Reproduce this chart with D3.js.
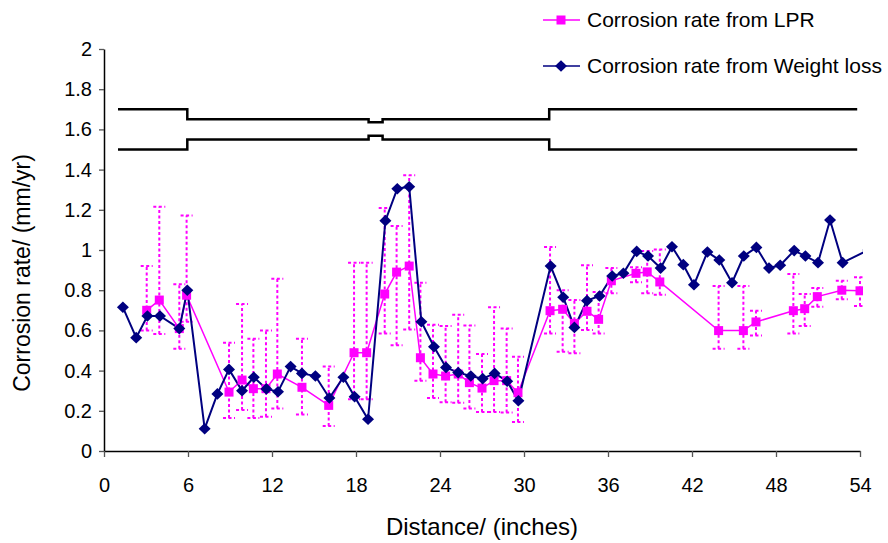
<!DOCTYPE html>
<html>
<head>
<meta charset="utf-8">
<script src="https://cdn.jsdelivr.net/npm/d3@7/dist/d3.min.js"></script>
<style>
  html, body { margin: 0; padding: 0; background: #fff; }
  svg { display: block; font-family: "Liberation Sans", Arial, sans-serif; }
</style>
</head>
<body>
<svg id="chart" width="888" height="543"></svg>
<script>
// Corrosion rate measured by linear polarisation resistance (LPR), with min/max range
const lprDist = [3.05, 3.95, 5.38, 5.9, 8.93, 9.86, 10.67, 11.57, 12.38, 14.14, 16.05, 17.86, 18.76,
  20.05, 20.9, 21.8, 22.6, 23.5, 24.4, 25.3, 26.1, 27.0, 27.86, 28.76, 29.57, 31.86, 32.76, 33.6,
  34.5, 35.33, 36.24, 38.0, 38.8, 39.7, 43.9, 45.67, 46.57, 49.24, 50.05, 50.95, 52.7, 54.0];
const lprRate = [0.70, 0.751, 0.609, 0.775, 0.293, 0.353, 0.31, 0.31, 0.383, 0.317, 0.227, 0.489, 0.489,
  0.781, 0.89, 0.92, 0.464, 0.383, 0.373, 0.383, 0.34, 0.313, 0.35, 0.35, 0.29, 0.698, 0.705, 0.635,
  0.695, 0.655, 0.847, 0.884, 0.891, 0.841, 0.599, 0.599, 0.642, 0.698, 0.708, 0.768, 0.80, 0.797];
const lprLow = [0.60, 0.582, 0.509, 0.643, 0.164, 0.204, 0.164, 0.171, 0.211, 0.181, 0.124, 0.257, 0.257,
  0.585, 0.526, 0.605, 0.35, 0.264, 0.242, 0.24, 0.211, 0.194, 0.194, 0.191, 0.144, 0.585, 0.494, 0.486,
  0.602, 0.585, 0.785, 0.84, 0.785, 0.777, 0.509, 0.509, 0.575, 0.585, 0.622, 0.718, 0.755, 0.721];
const lprHigh = [0.92, 1.215, 0.83, 1.172, 0.539, 0.731, 0.559, 0.599, 0.857, 0.559, 0.42, 0.937, 0.937,
  1.209, 1.119, 1.372, 0.837, 0.628, 0.622, 0.678, 0.625, 0.483, 0.715, 0.609, 0.469, 1.015, 0.80, 0.751,
  0.924, 0.791, 0.91, 0.914, 0.995, 1.003, 0.821, 0.821, 0.698, 0.881, 0.781, 0.811, 0.847, 0.864];

// Corrosion rate from coupon weight loss
const wlDist = [1.35, 2.3, 3.1, 4.0, 5.38, 5.95, 7.19, 8.1, 8.93, 9.86, 10.7, 11.6, 12.43, 13.33, 14.14,
  15.1, 16.1, 17.1, 17.9, 18.86, 20.1, 20.95, 21.8, 22.67, 23.57, 24.43, 25.3, 26.2, 27.05, 27.9, 28.8,
  29.6, 31.9, 32.8, 33.6, 34.5, 35.4, 36.3, 37.1, 38.05, 38.86, 39.76, 40.57, 41.38, 42.14, 43.1, 43.95,
  44.86, 45.7, 46.6, 47.5, 48.3, 49.3, 50.1, 51.0, 51.86, 52.76, 54.6];
const wlRate = [0.715, 0.564, 0.672, 0.672, 0.609, 0.80, 0.111, 0.284, 0.406, 0.30, 0.367, 0.309, 0.295,
  0.42, 0.386, 0.373, 0.264, 0.367, 0.27, 0.158, 1.146, 1.305, 1.315, 0.643, 0.519, 0.416, 0.39, 0.373,
  0.36, 0.386, 0.347, 0.25, 0.92, 0.765, 0.615, 0.748, 0.771, 0.871, 0.884, 0.993, 0.97, 0.91, 1.016,
  0.927, 0.827, 0.99, 0.95, 0.837, 0.97, 1.013, 0.91, 0.924, 0.997, 0.97, 0.937, 1.149, 0.937, 1.0];

// Pipe wall outline sketched above the data (distance, level)
const pipeTop = [[1.0, 1.70], [5.95, 1.70], [5.95, 1.65], [18.9, 1.65], [18.9, 1.635], [19.9, 1.635],
  [19.9, 1.65], [31.8, 1.65], [31.8, 1.70], [53.8, 1.70]];
const pipeBottom = [[1.0, 1.50], [5.95, 1.50], [5.95, 1.55], [18.9, 1.55], [18.9, 1.568], [19.9, 1.568],
  [19.9, 1.55], [31.8, 1.55], [31.8, 1.50], [53.8, 1.50]];

const xTicks = [0, 6, 12, 18, 24, 30, 36, 42, 48, 54];
const yTicks = [0, 0.2, 0.4, 0.6, 0.8, 1, 1.2, 1.4, 1.6, 1.8, 2];

const svg = d3.select("#chart");
const x = d3.scaleLinear().domain([0, 54]).range([104, 860]);
const y = d3.scaleLinear().domain([0, 2]).range([451, 49]);

const LPR = "#ff00ff", WL = "#000080";

svg.append("defs").append("clipPath").attr("id", "plot")
  .append("rect").attr("x", 104).attr("y", 40).attr("width", 759).attr("height", 420);

// axes
const yAxis = svg.append("g").attr("transform", "translate(104,0)")
  .call(d3.axisLeft(y).tickValues(yTicks).tickSize(5).tickSizeOuter(0).tickPadding(7)
    .tickFormat(d3.format("~g")));
const xAxis = svg.append("g").attr("transform", "translate(0,451)")
  .call(d3.axisBottom(x).tickValues(xTicks).tickSize(6).tickSizeOuter(0).tickPadding(21));
[yAxis, xAxis].forEach(g => {
  g.selectAll("text").attr("font-size", 20).attr("fill", "#000")
    .attr("font-family", "'Liberation Sans', Arial, sans-serif");
  g.select(".domain").attr("stroke", "#000").attr("stroke-width", 1.5);
  g.selectAll(".tick line").attr("stroke", "#555").attr("stroke-width", 1.3);
});

// axis titles
svg.append("text").attr("x", 482).attr("y", 535).attr("text-anchor", "middle")
  .attr("font-size", 24).text("Distance/ (inches)");
svg.append("text").attr("transform", "translate(30,273) rotate(-90)").attr("text-anchor", "middle")
  .attr("font-size", 23).text("Corrosion rate/ (mm/yr)");

// pipe outline
const pipeLine = d3.line().x(d => x(d[0])).y(d => y(d[1]));
[pipeTop, pipeBottom].forEach(p => {
  svg.append("path").attr("d", pipeLine(p)).attr("fill", "none")
    .attr("stroke", "#000").attr("stroke-width", 2.5);
});

const plot = svg.append("g").attr("clip-path", "url(#plot)");

// LPR min/max ranges as dotted bars with dotted caps
const lprIdx = d3.range(lprDist.length);
const err = plot.append("g").attr("stroke", LPR).attr("stroke-width", 2)
  .attr("stroke-dasharray", "3,2.5").attr("fill", "none");
lprIdx.forEach(i => {
  const cx = x(lprDist[i]);
  err.append("line").attr("x1", cx).attr("x2", cx)
    .attr("y1", y(lprLow[i])).attr("y2", y(lprHigh[i]));
  [lprLow[i], lprHigh[i]].forEach(v => {
    err.append("line").attr("x1", cx - 6).attr("x2", cx + 6)
      .attr("y1", y(v)).attr("y2", y(v));
  });
});

// series lines
const wlIdx = d3.range(wlDist.length);
plot.append("path")
  .attr("d", d3.line().x(i => x(lprDist[i])).y(i => y(lprRate[i]))(lprIdx))
  .attr("fill", "none").attr("stroke", LPR).attr("stroke-width", 1.5);
plot.append("path")
  .attr("d", d3.line().x(i => x(wlDist[i])).y(i => y(wlRate[i]))(wlIdx))
  .attr("fill", "none").attr("stroke", WL).attr("stroke-width", 2);

// markers
const diamond = "M0,-5.8L6,0L0,5.8L-6,0Z";
plot.append("g").selectAll("rect").data(lprIdx).join("rect")
  .attr("x", i => x(lprDist[i]) - 4.5).attr("y", i => y(lprRate[i]) - 4.5)
  .attr("width", 9).attr("height", 9).attr("fill", LPR);
plot.append("g").selectAll("path").data(wlIdx).join("path")
  .attr("transform", i => `translate(${x(wlDist[i])},${y(wlRate[i])})`)
  .attr("d", diamond).attr("fill", WL);

// legend
const legend = svg.append("g");
const rows = [
  { label: "Corrosion rate from LPR", color: LPR, y: 20, mark: "square" },
  { label: "Corrosion rate from Weight loss", color: WL, y: 66, mark: "diamond" }
];
rows.forEach(r => {
  legend.append("line").attr("x1", 543).attr("x2", 580).attr("y1", r.y).attr("y2", r.y)
    .attr("stroke", r.color).attr("stroke-width", 1.5);
  if (r.mark === "square") {
    legend.append("rect").attr("x", 561 - 4.5).attr("y", r.y - 4.5)
      .attr("width", 9).attr("height", 9).attr("fill", r.color);
  } else {
    legend.append("path").attr("transform", `translate(561,${r.y})`).attr("d", diamond)
      .attr("fill", r.color);
  }
  legend.append("text").attr("x", 587).attr("y", r.y).attr("dy", "0.35em")
    .attr("font-size", 21).text(r.label);
});
</script>
</body>
</html>
